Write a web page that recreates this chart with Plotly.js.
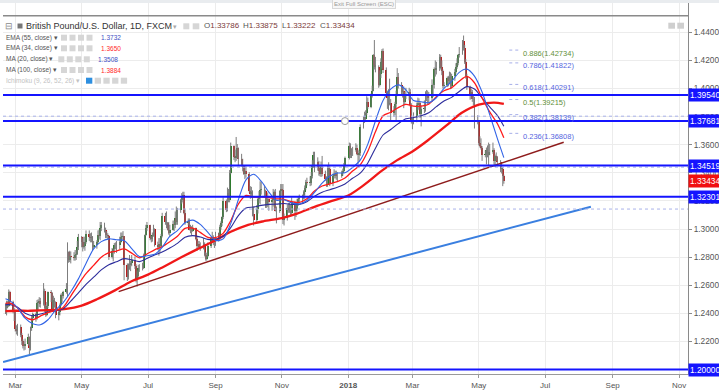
<!DOCTYPE html>
<html><head><meta charset="utf-8">
<script src="https://cdn.plot.ly/plotly-3.0.1.min.js"></script>
<style>html,body{margin:0;padding:0;background:#fff;overflow:hidden}#chart{width:719px;height:390px}</style>
</head><body><div id="chart"></div>
<script>
// ---------- Daily OHLC (GBP/USD, FXCM, 1D), one array per month: [open, high, low, close]
const ohlc_2017_02 = [[1.2410,1.2470,1.2395,1.2440],[1.2440,1.2490,1.2385,1.2460],[1.2460,1.2490,1.2435,1.2450],[1.2450,1.2570,1.2445,1.2555],[1.2555,1.2560,1.2455,1.2480],[1.2480,1.2490,1.2400,1.2420],[1.2420,1.2440,1.2345,1.2410]];
const ohlc_2017_03 = [[1.2410,1.2415,1.2270,1.2290],[1.2290,1.2315,1.2250,1.2275],[1.2275,1.2325,1.2240,1.2300],[1.2300,1.2320,1.2230,1.2245],[1.2245,1.2260,1.2175,1.2200],[1.2200,1.2215,1.2150,1.2170],[1.2170,1.2200,1.2135,1.2165],[1.2165,1.2220,1.2140,1.2180],[1.2180,1.2255,1.2170,1.2230],[1.2230,1.2235,1.2110,1.2150],[1.2150,1.2305,1.2135,1.2295],[1.2295,1.2385,1.2275,1.2365],[1.2365,1.2405,1.2345,1.2395],[1.2395,1.2405,1.2340,1.2365],[1.2365,1.2495,1.2355,1.2475],[1.2475,1.2500,1.2420,1.2475],[1.2475,1.2515,1.2445,1.2490],[1.2490,1.2510,1.2440,1.2465],[1.2465,1.2615,1.2455,1.2560],[1.2560,1.2575,1.2410,1.2435],[1.2435,1.2460,1.2375,1.2390],[1.2390,1.2480,1.2380,1.2450],[1.2450,1.2555,1.2435,1.2550]];
const ohlc_2017_04 = [[1.2550,1.2565,1.2480,1.2545],[1.2545,1.2550,1.2420,1.2425],[1.2425,1.2525,1.2410,1.2495],[1.2495,1.2510,1.2440,1.2480],[1.2480,1.2485,1.2365,1.2385],[1.2385,1.2420,1.2350,1.2410],[1.2410,1.2470,1.2385,1.2460],[1.2460,1.2540,1.2450,1.2530],[1.2530,1.2545,1.2480,1.2520],[1.2520,1.2560,1.2505,1.2555],[1.2555,1.2615,1.2540,1.2570],[1.2570,1.2905,1.2515,1.2835],[1.2835,1.2840,1.2760,1.2780],[1.2780,1.2845,1.2765,1.2805],[1.2805,1.2840,1.2755,1.2800],[1.2800,1.2835,1.2775,1.2795],[1.2795,1.2850,1.2775,1.2815],[1.2815,1.2850,1.2780,1.2820],[1.2820,1.2915,1.2815,1.2875],[1.2875,1.2965,1.2850,1.2945]];
const ohlc_2017_05 = [[1.2945,1.2950,1.2870,1.2905],[1.2905,1.2935,1.2840,1.2870],[1.2870,1.2945,1.2860,1.2880],[1.2880,1.2945,1.2845,1.2905],[1.2905,1.2990,1.2895,1.2965],[1.2965,1.2990,1.2915,1.2945],[1.2945,1.2970,1.2905,1.2935],[1.2935,1.2975,1.2905,1.2945],[1.2945,1.2950,1.2845,1.2875],[1.2875,1.2915,1.2860,1.2885],[1.2885,1.2920,1.2860,1.2905],[1.2905,1.2990,1.2895,1.2955],[1.2955,1.2995,1.2930,1.2950],[1.2950,1.3050,1.2920,1.3010],[1.3010,1.3050,1.2985,1.3030],[1.3030,1.3045,1.2975,1.2995],[1.2995,1.3010,1.2935,1.2955],[1.2955,1.2985,1.2935,1.2955],[1.2955,1.2970,1.2925,1.2950],[1.2950,1.2955,1.2780,1.2800],[1.2800,1.2865,1.2790,1.2845],[1.2845,1.2860,1.2770,1.2855],[1.2855,1.2900,1.2825,1.2885]];
const ohlc_2017_06 = [[1.2885,1.2905,1.2855,1.2885],[1.2885,1.2915,1.2830,1.2885],[1.2885,1.2945,1.2855,1.2910],[1.2910,1.2975,1.2900,1.2945],[1.2945,1.2975,1.2920,1.2950],[1.2950,1.2985,1.2925,1.2950],[1.2950,1.2950,1.2635,1.2745],[1.2745,1.2755,1.2630,1.2655],[1.2655,1.2755,1.2640,1.2750],[1.2750,1.2815,1.2710,1.2745],[1.2745,1.2775,1.2700,1.2755],[1.2755,1.2815,1.2735,1.2780],[1.2780,1.2805,1.2715,1.2740],[1.2740,1.2750,1.2620,1.2635],[1.2635,1.2705,1.2590,1.2665],[1.2665,1.2745,1.2645,1.2725],[1.2725,1.2750,1.2695,1.2720],[1.2720,1.2760,1.2705,1.2725],[1.2725,1.2825,1.2715,1.2810],[1.2810,1.2960,1.2800,1.2955],[1.2955,1.3030,1.2950,1.3005],[1.3005,1.3050,1.2985,1.3025]];
const ohlc_2017_07 = [[1.3025,1.3030,1.2920,1.2935],[1.2935,1.2950,1.2905,1.2930],[1.2930,1.2975,1.2910,1.2960],[1.2960,1.3030,1.2945,1.3000],[1.3000,1.3005,1.2875,1.2885],[1.2885,1.2910,1.2850,1.2870],[1.2870,1.2935,1.2810,1.2895],[1.2895,1.2935,1.2830,1.2880],[1.2880,1.2965,1.2865,1.2950],[1.2950,1.3115,1.2940,1.3095],[1.3095,1.3115,1.3030,1.3050],[1.3050,1.3125,1.3005,1.3040],[1.3040,1.3050,1.2990,1.2995],[1.2995,1.3050,1.2960,1.2975],[1.2975,1.3030,1.2945,1.2995],[1.2995,1.3060,1.2990,1.3035],[1.3035,1.3060,1.2985,1.3030],[1.3030,1.3125,1.3005,1.3080],[1.3080,1.3160,1.3030,1.3050],[1.3050,1.3150,1.3030,1.3135],[1.3135,1.3215,1.3115,1.3205]];
const ohlc_2017_08 = [[1.3205,1.3255,1.3180,1.3225],[1.3225,1.3265,1.3190,1.3245],[1.3245,1.3265,1.3105,1.3115],[1.3115,1.3140,1.3030,1.3040],[1.3040,1.3075,1.3025,1.3055],[1.3055,1.3075,1.2990,1.2995],[1.2995,1.3030,1.2970,1.3000],[1.3000,1.3020,1.2955,1.2985],[1.2985,1.3030,1.2980,1.3010],[1.3010,1.3010,1.2920,1.2930],[1.2930,1.2945,1.2845,1.2880],[1.2880,1.2915,1.2855,1.2890],[1.2890,1.2915,1.2855,1.2870],[1.2870,1.2905,1.2845,1.2870],[1.2870,1.2935,1.2855,1.2890],[1.2890,1.2905,1.2805,1.2815],[1.2815,1.2835,1.2775,1.2790],[1.2790,1.2830,1.2775,1.2810],[1.2810,1.2905,1.2800,1.2880],[1.2880,1.2945,1.2865,1.2935],[1.2935,1.2980,1.2905,1.2945],[1.2945,1.2955,1.2885,1.2905],[1.2905,1.2940,1.2865,1.2925]];
const ohlc_2017_09 = [[1.2925,1.2980,1.2880,1.2975],[1.2975,1.2975,1.2910,1.2935],[1.2935,1.3030,1.2925,1.3015],[1.3015,1.3055,1.2995,1.3045],[1.3045,1.3090,1.3020,1.3085],[1.3085,1.3225,1.3070,1.3200],[1.3200,1.3210,1.3120,1.3135],[1.3135,1.3295,1.3125,1.3255],[1.3255,1.3285,1.3190,1.3205],[1.3205,1.3420,1.3190,1.3400],[1.3400,1.3615,1.3390,1.3590],[1.3590,1.3595,1.3490,1.3510],[1.3510,1.3565,1.3475,1.3505],[1.3505,1.3655,1.3485,1.3520],[1.3520,1.3605,1.3500,1.3575],[1.3575,1.3580,1.3450,1.3495],[1.3495,1.3535,1.3445,1.3450],[1.3450,1.3500,1.3410,1.3445],[1.3445,1.3455,1.3385,1.3390],[1.3390,1.3445,1.3355,1.3415],[1.3415,1.3445,1.3365,1.3395]];
const ohlc_2017_10 = [[1.3395,1.3405,1.3260,1.3270],[1.3270,1.3305,1.3215,1.3250],[1.3250,1.3300,1.3220,1.3265],[1.3265,1.3275,1.3090,1.3105],[1.3105,1.3160,1.3025,1.3065],[1.3065,1.3170,1.3050,1.3145],[1.3145,1.3235,1.3110,1.3215],[1.3215,1.3270,1.3185,1.3235],[1.3235,1.3340,1.3175,1.3280],[1.3280,1.3335,1.3245,1.3285],[1.3285,1.3305,1.3235,1.3270],[1.3270,1.3280,1.3150,1.3175],[1.3175,1.3220,1.3150,1.3205],[1.3205,1.3260,1.3155,1.3210],[1.3210,1.3215,1.3130,1.3195],[1.3195,1.3220,1.3130,1.3205],[1.3205,1.3285,1.3160,1.3215],[1.3215,1.3275,1.3145,1.3265],[1.3265,1.3285,1.3125,1.3130],[1.3130,1.3160,1.3040,1.3125],[1.3125,1.3275,1.3115,1.3270],[1.3270,1.3320,1.3235,1.3285]];
const ohlc_2017_11 = [[1.3285,1.3320,1.3225,1.3280],[1.3280,1.3320,1.3035,1.3065],[1.3065,1.3110,1.3025,1.3080],[1.3080,1.3175,1.3060,1.3150],[1.3150,1.3185,1.3115,1.3135],[1.3135,1.3185,1.3115,1.3125],[1.3125,1.3175,1.3100,1.3115],[1.3115,1.3225,1.3100,1.3190],[1.3190,1.3195,1.3065,1.3130],[1.3130,1.3175,1.3085,1.3140],[1.3140,1.3215,1.3125,1.3185],[1.3185,1.3235,1.3165,1.3210],[1.3210,1.3245,1.3190,1.3220],[1.3220,1.3245,1.3180,1.3240],[1.3240,1.3275,1.3210,1.3260],[1.3260,1.3310,1.3215,1.3295],[1.3295,1.3350,1.3280,1.3335],[1.3335,1.3365,1.3310,1.3330],[1.3330,1.3375,1.3305,1.3330],[1.3330,1.3405,1.3310,1.3375],[1.3375,1.3490,1.3360,1.3450],[1.3450,1.3550,1.3435,1.3525]];
const ohlc_2017_12 = [[1.3525,1.3550,1.3405,1.3480],[1.3480,1.3510,1.3415,1.3435],[1.3435,1.3485,1.3380,1.3415],[1.3415,1.3450,1.3375,1.3395],[1.3395,1.3480,1.3370,1.3440],[1.3440,1.3520,1.3375,1.3390],[1.3390,1.3415,1.3345,1.3355],[1.3355,1.3375,1.3300,1.3315],[1.3315,1.3450,1.3300,1.3435],[1.3435,1.3475,1.3375,1.3425],[1.3425,1.3445,1.3305,1.3325],[1.3325,1.3395,1.3305,1.3375],[1.3375,1.3425,1.3360,1.3390],[1.3390,1.3415,1.3360,1.3395],[1.3395,1.3415,1.3350,1.3375],[1.3375,1.3405,1.3340,1.3380],[1.3380,1.3415,1.3365,1.3400],[1.3400,1.3430,1.3380,1.3415],[1.3415,1.3470,1.3400,1.3450],[1.3450,1.3515,1.3440,1.3505]];
const ohlc_2018_01 = [[1.3505,1.3615,1.3495,1.3590],[1.3590,1.3610,1.3505,1.3525],[1.3525,1.3575,1.3505,1.3560],[1.3560,1.3585,1.3520,1.3565],[1.3565,1.3610,1.3550,1.3575],[1.3575,1.3600,1.3525,1.3535],[1.3535,1.3565,1.3460,1.3530],[1.3530,1.3555,1.3480,1.3540],[1.3540,1.3745,1.3520,1.3725],[1.3725,1.3800,1.3715,1.3795],[1.3795,1.3835,1.3755,1.3785],[1.3785,1.3845,1.3765,1.3825],[1.3825,1.3945,1.3810,1.3905],[1.3905,1.3935,1.3855,1.3870],[1.3870,1.3965,1.3860,1.3955],[1.3955,1.4020,1.3935,1.3985],[1.3985,1.4245,1.3980,1.4235],[1.4235,1.4345,1.4135,1.4165],[1.4165,1.4225,1.4115,1.4155],[1.4155,1.4165,1.4005,1.4025],[1.4025,1.4130,1.4015,1.4105],[1.4105,1.4215,1.4075,1.4190]];
const ohlc_2018_02 = [[1.4190,1.4280,1.4140,1.4270],[1.4270,1.4285,1.4110,1.4130],[1.4130,1.4150,1.3955,1.3970],[1.3970,1.3985,1.3855,1.3935],[1.3935,1.3995,1.3845,1.3890],[1.3890,1.4070,1.3880,1.3900],[1.3900,1.3925,1.3765,1.3825],[1.3825,1.3875,1.3800,1.3845],[1.3845,1.3905,1.3810,1.3890],[1.3890,1.3985,1.3765,1.3955],[1.3955,1.4145,1.3945,1.4080],[1.4080,1.4110,1.4000,1.4025],[1.4025,1.4045,1.3960,1.3975],[1.3975,1.4015,1.3935,1.3980],[1.3980,1.4015,1.3860,1.3905],[1.3905,1.3975,1.3885,1.3950],[1.3950,1.4005,1.3925,1.3960],[1.3960,1.4005,1.3915,1.3975],[1.3975,1.3995,1.3870,1.3880],[1.3880,1.3895,1.3750,1.3760]];
const ohlc_2018_03 = [[1.3760,1.3790,1.3710,1.3780],[1.3780,1.3830,1.3745,1.3800],[1.3800,1.3900,1.3760,1.3880],[1.3880,1.3935,1.3845,1.3900],[1.3900,1.3930,1.3850,1.3895],[1.3895,1.3905,1.3790,1.3815],[1.3815,1.3880,1.3730,1.3855],[1.3855,1.3915,1.3825,1.3860],[1.3860,1.3980,1.3835,1.3960],[1.3960,1.3990,1.3910,1.3960],[1.3960,1.3985,1.3890,1.3930],[1.3930,1.3975,1.3890,1.3935],[1.3935,1.4065,1.3905,1.4025],[1.4025,1.4035,1.3940,1.4025],[1.4025,1.4150,1.4000,1.4140],[1.4140,1.4200,1.4085,1.4135],[1.4135,1.4190,1.4100,1.4145],[1.4145,1.4245,1.4125,1.4225],[1.4225,1.4240,1.4135,1.4155],[1.4155,1.4200,1.4095,1.4125],[1.4125,1.4135,1.4000,1.4020],[1.4020,1.4045,1.4005,1.4025]];
const ohlc_2018_04 = [[1.4025,1.4085,1.4010,1.4075],[1.4075,1.4090,1.4015,1.4050],[1.4050,1.4120,1.4030,1.4085],[1.4085,1.4115,1.3995,1.4015],[1.4015,1.4105,1.4000,1.4090],[1.4090,1.4140,1.4055,1.4120],[1.4120,1.4180,1.4105,1.4155],[1.4155,1.4215,1.4140,1.4180],[1.4180,1.4245,1.4165,1.4235],[1.4235,1.4295,1.4220,1.4245],[1.4245,1.4345,1.4240,1.4340],[1.4340,1.4377,1.4270,1.4290],[1.4290,1.4310,1.4175,1.4190],[1.4190,1.4210,1.4070,1.4090],[1.4090,1.4105,1.3990,1.4010],[1.4010,1.4020,1.3920,1.3950],[1.3950,1.4000,1.3925,1.3975],[1.3975,1.3990,1.3905,1.3925],[1.3925,1.3960,1.3880,1.3925],[1.3925,1.3940,1.3715,1.3775],[1.3775,1.3810,1.3745,1.3760]];
const ohlc_2018_05 = [[1.3760,1.3770,1.3595,1.3615],[1.3615,1.3660,1.3580,1.3590],[1.3590,1.3645,1.3565,1.3575],[1.3575,1.3590,1.3485,1.3530],[1.3530,1.3560,1.3510,1.3530],[1.3530,1.3580,1.3460,1.3565],[1.3565,1.3595,1.3510,1.3530],[1.3530,1.3615,1.3450,1.3545],[1.3545,1.3605,1.3525,1.3550],[1.3550,1.3615,1.3535,1.3565],[1.3565,1.3575,1.3455,1.3485],[1.3485,1.3530,1.3440,1.3520],[1.3520,1.3545,1.3485,1.3510],[1.3510,1.3520,1.3450,1.3475],[1.3475,1.3490,1.3405,1.3430],[1.3430,1.3470,1.3395,1.3430],[1.3430,1.3440,1.3305,1.33786],[1.33786,1.33875,1.33222,1.33434]];

const firstDay = '2017-02-20', lastDay = '2018-05-24';
const closedDays = ['2017-12-25','2018-01-01'];

// ---------- Moving averages (weekly samples: first bar, every Friday, last bar)
const maFirst = '2017-02-20', maFirstFriday = '2017-02-24', maLastFriday = '2018-05-18', maLast = '2018-05-24';
const ma20 = [1.2503,1.2490,1.2440,1.2365,1.2325,1.2319,1.2354,1.2423,1.2476,1.2553,1.2645,1.2755,1.2858,1.2910,1.2930,1.2923,1.2919,1.2861,1.2804,1.2810,1.2820,1.2870,1.2948,1.2989,1.3045,1.3063,1.3033,1.2976,1.2919,1.2930,1.3038,1.3208,1.3350,1.3390,1.3340,1.3263,1.3205,1.3208,1.3186,1.3178,1.3203,1.3260,1.3326,1.3375,1.3398,1.3400,1.3438,1.3490,1.3604,1.3769,1.3914,1.3995,1.4026,1.3990,1.3915,1.3906,1.3899,1.3934,1.4001,1.4050,1.4115,1.4138,1.4088,1.3975,1.3814,1.3645,1.3508];
const ema34 = [1.2470,1.2473,1.2439,1.2376,1.2354,1.2380,1.2405,1.2420,1.2442,1.2523,1.2606,1.2682,1.2741,1.2799,1.2832,1.2843,1.2858,1.2828,1.2795,1.2822,1.2852,1.2874,1.2909,1.2949,1.3004,1.3006,1.2976,1.2941,1.2939,1.2969,1.3059,1.3177,1.3239,1.3227,1.3228,1.3223,1.3215,1.3211,1.3194,1.3189,1.3215,1.3270,1.3306,1.3322,1.3337,1.3363,1.3413,1.3456,1.3553,1.3692,1.3806,1.3831,1.3864,1.3887,1.3875,1.3874,1.3888,1.3941,1.3984,1.4005,1.4052,1.4086,1.4041,1.3932,1.3833,1.3751,1.3650];
const ema55 = [1.2460,1.2463,1.2443,1.2401,1.2383,1.2395,1.2409,1.2418,1.2432,1.2486,1.2546,1.2606,1.2657,1.2709,1.2746,1.2767,1.2789,1.2781,1.2768,1.2790,1.2815,1.2836,1.2865,1.2898,1.2942,1.2953,1.2943,1.2926,1.2927,1.2948,1.3010,1.3095,1.3149,1.3156,1.3168,1.3175,1.3177,1.3181,1.3175,1.3175,1.3194,1.3233,1.3262,1.3280,1.3297,1.3321,1.3361,1.3397,1.3470,1.3575,1.3669,1.3708,1.3750,1.3784,1.3793,1.3806,1.3827,1.3871,1.3911,1.3937,1.3979,1.4013,1.3996,1.3933,1.3869,1.3809,1.3732];
const ma100Dates = ['2017-02-20','2017-03-01','2017-03-15','2017-04-01','2017-04-15','2017-05-01','2017-05-15','2017-06-01','2017-06-15','2017-07-01','2017-07-15','2017-08-01','2017-08-15','2017-09-01','2017-09-15','2017-10-01','2017-10-15','2017-11-01','2017-11-15','2017-12-01','2017-12-15','2018-01-01','2018-01-15','2018-02-01','2018-02-15','2018-03-01','2018-03-15','2018-04-01','2018-04-15','2018-05-01','2018-05-15','2018-05-24'];
const ma100 = [1.2415,1.2418,1.2418,1.2422,1.2430,1.2455,1.2500,1.2565,1.2625,1.2675,1.2730,1.2800,1.2855,1.2920,1.2980,1.3030,1.3055,1.3078,1.3110,1.3158,1.3195,1.3238,1.3310,1.3415,1.3490,1.3552,1.3630,1.3735,1.3825,1.3885,1.3900,1.3890];
const legendValues = {ema55:'1.3732', ema34:'1.3650', ma20:'1.3508', ma100:'1.3884'};

// ---------- Drawings
const levels = [1.39540, 1.37681, 1.34519, 1.32301, 1.20000];
const lastPrice = 1.33434;
const faintLevels = [1.3803, 1.3440, 1.3142];
const redTrendX = ['2017-06-04','2018-07-18'], redTrendY = [1.2554, 1.3617];
const blueTrendX = ['2017-02-17 18:00','2018-08-12'], blueTrendY = [1.2053, 1.3159];
const anchorX = ['2017-12-29'], anchorY = [1.37681];
const fibRatios = ['0.886','0.786','0.618','0.5','0.382','0.236'];
const fibPrices = [1.42734, 1.41822, 1.40291, 1.39215, 1.38139, 1.36808];
const xTickVals = ['2017-03-01','2017-05-01','2017-07-01','2017-09-01','2017-11-01','2018-01-01','2018-03-01','2018-05-01','2018-07-01','2018-09-01','2018-11-01'];
const xTickText = ['Mar','May','Jul','Sep','Nov','<b>2018</b>','Mar','May','Jul','Sep','Nov'];
const yTickVals = [1.20,1.22,1.24,1.26,1.28,1.30,1.32,1.34,1.36,1.38,1.40,1.42,1.44];

// ---------- build
function isoDay(d){return d.toISOString().slice(0,10);}
function tradingDays(a,b){
  const out=[]; let d=new Date(a+'T00:00:00Z'); const e=new Date(b+'T00:00:00Z');
  while(d<=e){const wd=d.getUTCDay(); const s=isoDay(d); if(wd!==0&&wd!==6&&closedDays.indexOf(s)<0) out.push(s); d=new Date(d.getTime()+86400000);}
  return out;
}
function weekly(a,b){const out=[];let d=new Date(a+'T00:00:00Z');const e=new Date(b+'T00:00:00Z');while(d<=e){out.push(isoDay(d));d=new Date(d.getTime()+7*86400000);}return out;}

const rows = [].concat(ohlc_2017_02,ohlc_2017_03,ohlc_2017_04,ohlc_2017_05,ohlc_2017_06,ohlc_2017_07,ohlc_2017_08,ohlc_2017_09,ohlc_2017_10,ohlc_2017_11,ohlc_2017_12,ohlc_2018_01,ohlc_2018_02,ohlc_2018_03,ohlc_2018_04,ohlc_2018_05);
const days = tradingDays(firstDay,lastDay);
if(days.length!==rows.length) console.error('length mismatch', days.length, rows.length);
const maDates = [maFirst].concat(weekly(maFirstFriday,maLastFriday),[maLast]);

const wickX=[], wickY=[], bodyBase=[], bodyH=[], bodyC=[];
rows.forEach((r,i)=>{
  const [o,h,l,c]=r;
  wickX.push(days[i],days[i],null); wickY.push(l,h,null);
  bodyBase.push(Math.min(o,c)); bodyH.push(Math.max(Math.abs(c-o),0.00025));
  bodyC.push(c>=o?'#237a23':'#c21010');
});
const last = rows[rows.length-1];

const FONT='Liberation Sans, Arial, sans-serif';
const traces = [
  {type:'scatter',mode:'lines',x:wickX,y:wickY,line:{color:'#7d7d7d',width:1},hoverinfo:'skip',connectgaps:false},
  {type:'bar',x:days,y:bodyH,base:bodyBase,width:1.75*86400000,marker:{color:bodyC,line:{width:0}},hoverinfo:'skip'},
  {type:'scatter',mode:'lines',x:ma100Dates,y:ma100,line:{color:'#f01818',width:2.3,shape:'spline',smoothing:0.8}},
  {type:'scatter',mode:'lines',x:maDates,y:ema55,line:{color:'#2c2c9c',width:1.1,shape:'spline',smoothing:0.8}},
  {type:'scatter',mode:'lines',x:maDates,y:ema34,line:{color:'#ff1a1a',width:1.3,shape:'spline',smoothing:0.8}},
  {type:'scatter',mode:'lines',x:maDates,y:ma20,line:{color:'#3264e6',width:1.1,shape:'spline',smoothing:0.8}},
  {type:'scatter',mode:'lines',x:redTrendX,y:redTrendY,line:{color:'#8e1c1c',width:1.5}},
  {type:'scatter',mode:'lines',x:blueTrendX,y:blueTrendY,line:{color:'#3a7fe0',width:2}}
];

// layout geometry
const W=719,H=390,ML=3,MR=31,MT=3,MB=16, PW=W-ML-MR, PH=H-MT-MB;
const PX=x=>(x-ML)/PW, PY=y=>1-(y-MT)/PH;

const shapes=[], ann=[];
shapes.push({type:'rect',xref:'paper',yref:'paper',x0:PX(0),x1:PX(W),y0:PY(3),y1:PY(0),fillcolor:'#e9ecef',line:{width:0},layer:'above'});
shapes.push({type:'line',xref:'paper',yref:'paper',x0:0,x1:1,y0:PY(15.7),y1:PY(15.7),line:{color:'#8a8a8a',width:1.5}});
faintLevels.forEach(v=>shapes.push({type:'line',xref:'paper',yref:'y',x0:0,x1:1,y0:v,y1:v,line:{color:'#a9b2ea',width:1,dash:'dot'}}));
levels.forEach(v=>shapes.push({type:'line',xref:'paper',yref:'y',x0:0,x1:1,y0:v,y1:v,line:{color:'#1414ff',width:2}}));
shapes.push({type:'circle',xref:'x',yref:'y',xsizemode:'pixel',ysizemode:'pixel',xanchor:anchorX[0],yanchor:anchorY[0],x0:-3.5,x1:3.5,y0:-3.5,y1:3.5,fillcolor:'#ffffff',line:{color:'#9a9a9a',width:1}});
fibPrices.forEach((p,i)=>{
  const col = (fibRatios[i]==='0.886'||fibRatios[i]==='0.5')?'#5f8f3a':'#5566e0';
  shapes.push({type:'line',xref:'x',yref:'y',x0:'2018-05-29',x1:'2018-06-08',y0:p,y1:p,line:{color:'#a6aee8',width:1,dash:'dot'}});
  ann.push({xref:'x',yref:'y',x:'2018-06-09',y:p,xanchor:'left',yanchor:'middle',yshift:-3,showarrow:false,text:fibRatios[i]+'('+p.toFixed(5)+')',font:{family:FONT,size:7.5,color:col}});
});
levels.forEach(v=>ann.push({xref:'paper',yref:'y',x:1,y:v,xanchor:'left',yanchor:'middle',xshift:0,showarrow:false,text:v.toFixed(5),bgcolor:'#1414ff',borderpad:1,font:{family:FONT,size:8.3,color:'#ffffff'}}));
ann.push({xref:'paper',yref:'y',x:1,y:lastPrice,xanchor:'left',yanchor:'middle',showarrow:false,text:lastPrice.toFixed(5),bgcolor:'#f01010',borderpad:1,font:{family:FONT,size:8.3,color:'#ffffff'}});

function t(x,y,text,size,color,extra){ann.push(Object.assign({xref:'paper',yref:'paper',x:PX(x),y:PY(y),xanchor:'left',yanchor:'middle',showarrow:false,text:text,borderpad:0,font:{family:FONT,size:size,color:color}},extra||{}));}
function box(x0,y0,x1,y1,c){shapes.push({type:'rect',xref:'paper',yref:'paper',x0:PX(x0),x1:PX(x1),y0:PY(y1),y1:PY(y0),fillcolor:c,line:{width:0},layer:'above'});}
ann.push({xref:'paper',yref:'paper',x:PX(364),y:PY(4),xanchor:'center',yanchor:'middle',showarrow:false,text:'Exit Full Screen (ESC)',bgcolor:'#f7f7f7',bordercolor:'#d8d8d8',borderwidth:1,borderpad:1,font:{family:FONT,size:6,color:'#9a9a9a'}});
t(3.5,25.7,'⊟',9,'#8a8a8a');
box(17.5,23.5,22.5,28.5,'#777');
t(25,25.7,'British Pound/U.S. Dollar, 1D, FXCM',9,'#333');
t(172,26.5,'▾',7,'#aaa');
box(183.3,23.3,189.3,29.3,'#d6d6d6'); box(192.7,23.3,199.3,29.3,'#d6d6d6');
const vcol='#7b3b3b';
t(202.5,25.7,"O<span style='color:"+vcol+"'>"+last[0].toFixed(5)+"</span>",8,'#555');
t(241.5,25.7,"H<span style='color:"+vcol+"'>"+last[1].toFixed(5)+"</span>",8,'#555');
t(280.5,25.7,"L<span style='color:"+vcol+"'>"+last[2].toFixed(5)+"</span>",8,'#555');
t(319,25.7,"C<span style='color:"+vcol+"'>"+last[3].toFixed(5)+"</span>",8,'#555');
const rowsUI=[['EMA (55, close) ▾',37.7,61,100,legendValues.ema55,'#3d4fc4'],['EMA (34, close) ▾',48.3,61,100,legendValues.ema34,'#ff2a2a'],['MA (20, close) ▾',59.3,58.3,96.7,legendValues.ma20,'#3d4fc4'],['MA (100, close) ▾',70,61,100,legendValues.ma100,'#ff2a2a']];
rowsUI.forEach(r=>{t(5,r[1],r[0],6.5,'#555');for(let k=0;k<4;k++)box(r[2]+k*8.5,r[1]-3,r[2]+k*8.5+6,r[1]+3,'#d6d6d6');t(r[3],r[1],r[4],6.5,r[5]);});
t(5,80.7,'Ichimoku (9, 26, 52, 26) ▾',6.5,'#c2c2c2');
for(let k=0;k<5;k++)box(86+k*8.7,77.7,86+k*8.7+6.3,83.7,k===0?'#2d8fe0':'#d6d6d6');
box(668.3,22.7,675,28.7,'#cfcfcf'); box(677.3,22.7,684,28.7,'#cfcfcf');

const layout={
  width:W,height:H,margin:{l:ML,r:MR,t:MT,b:MB,pad:0},
  paper_bgcolor:'#ffffff',plot_bgcolor:'#ffffff',showlegend:false,
  font:{family:FONT,color:'#555'},
  bargap:0,barmode:'overlay',
  xaxis:{type:'date',range:['2017-02-17 17:00','2018-11-09 06:00'],tickvals:xTickVals,ticktext:xTickText,tickangle:0,
    tickfont:{family:FONT,size:8,color:'#555'},showgrid:true,gridcolor:'#ececec',gridwidth:1,showline:true,linecolor:'#9a9a9a',
    ticks:'outside',ticklen:3,tickcolor:'#9a9a9a',zeroline:false,fixedrange:true},
  yaxis:{side:'right',range:[1.1968,1.46085],tickvals:yTickVals,tickformat:'.5f',tickfont:{family:FONT,size:8.3,color:'#555'},
    showgrid:true,gridcolor:'#ececec',gridwidth:1,showline:true,linecolor:'#8a8a8a',ticks:'outside',ticklen:3,tickcolor:'#8a8a8a',zeroline:false,fixedrange:true},
  shapes:shapes,annotations:ann
};
Plotly.newPlot('chart',traces,layout,{staticPlot:true,displayModeBar:false});
</script></body></html>
